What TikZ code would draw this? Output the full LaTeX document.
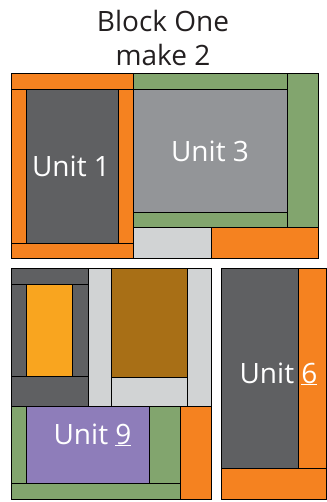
\documentclass[tikz,border=0pt]{standalone}
\usepackage{fontspec}
\setmainfont{Open Sans}
\definecolor{quiltorange}{HTML}{F58220}
\definecolor{quiltdark}{HTML}{5F6062}
\definecolor{quiltmid}{HTML}{939598}
\definecolor{quiltlight}{HTML}{D1D3D4}
\definecolor{quiltgreen}{HTML}{82A56E}
\definecolor{quiltyellow}{HTML}{F9A51F}
\definecolor{quiltbrown}{HTML}{A86F16}
\definecolor{quiltpurple}{HTML}{8E7DBA}
\definecolor{quiltink}{HTML}{231F20}
\tikzset{
  patch/.style={draw=black, line width=0.8pt},
  unitlabel/.style={anchor=base, text=white, inner sep=0pt, font=\fontsize{28}{30}\selectfont},
  titlelabel/.style={anchor=base, text=quiltink, inner sep=0pt, font=\fontsize{28}{34}\selectfont}
}
\begin{document}
\begin{tikzpicture}[x=1pt,y=-1pt]
\useasboundingbox (0,0) rectangle (326,502);
\node[titlelabel] (titleone) at (163,32) {Block One};
\node[titlelabel] (titletwo) at (163,66) {make 2};
% top block
\draw[patch, fill=quiltorange] (11,73) rectangle (133,89);
\draw[patch, fill=quiltorange] (11,89) rectangle (26,243);
\draw[patch, fill=quiltdark] (26,89) rectangle (118,243);
\draw[patch, fill=quiltorange] (118,89) rectangle (133,243);
\draw[patch, fill=quiltorange] (11,243) rectangle (133,258);
\draw[patch, fill=quiltgreen] (133,73) rectangle (287,89);
\draw[patch, fill=quiltmid] (133,89) rectangle (287,212);
\draw[patch, fill=quiltgreen] (133,212) rectangle (287,227);
\draw[patch, fill=quiltgreen] (287,73) rectangle (318,227);
\draw[patch, fill=quiltlight] (133,227) rectangle (211,258);
\draw[patch, fill=quiltorange] (211,227) rectangle (318,258);
\node[unitlabel] (unitone) at (71,177) {Unit 1};
\node[unitlabel] (unitthree) at (210,162) {Unit 3};
% bottom left block
\draw[patch, fill=quiltdark] (11,268) rectangle (88,284);
\draw[patch, fill=quiltdark] (11,284) rectangle (26,376);
\draw[patch, fill=quiltyellow] (26,284) rectangle (72,376);
\draw[patch, fill=quiltdark] (72,284) rectangle (88,376);
\draw[patch, fill=quiltdark] (11,376) rectangle (88,406);
\draw[patch, fill=quiltlight] (88,268) rectangle (111,406);
\draw[patch, fill=quiltbrown] (111,268) rectangle (187,377);
\draw[patch, fill=quiltlight] (111,377) rectangle (187,406);
\draw[patch, fill=quiltlight] (187,268) rectangle (211,406);
\draw[patch, fill=quiltgreen] (11,406) rectangle (26,483);
\draw[patch, fill=quiltpurple] (26,406) rectangle (149,483);
\draw[patch, fill=quiltgreen] (149,406) rectangle (180,483);
\draw[patch, fill=quiltgreen] (11,483) rectangle (180,499);
\draw[patch, fill=quiltorange] (180,406) rectangle (211,499);
\node[unitlabel] (unitnine) at (92.5,444) {Unit \underline{9}};
% right block
\draw[patch, fill=quiltdark] (221,268) rectangle (298,468);
\draw[patch, fill=quiltorange] (298,268) rectangle (326.5,468);
\draw[patch, fill=quiltorange] (221,468) rectangle (326.5,499);
\node[unitlabel] (unitsix) at (278.5,383) {Unit \underline{6}};
\end{tikzpicture}
\end{document}
